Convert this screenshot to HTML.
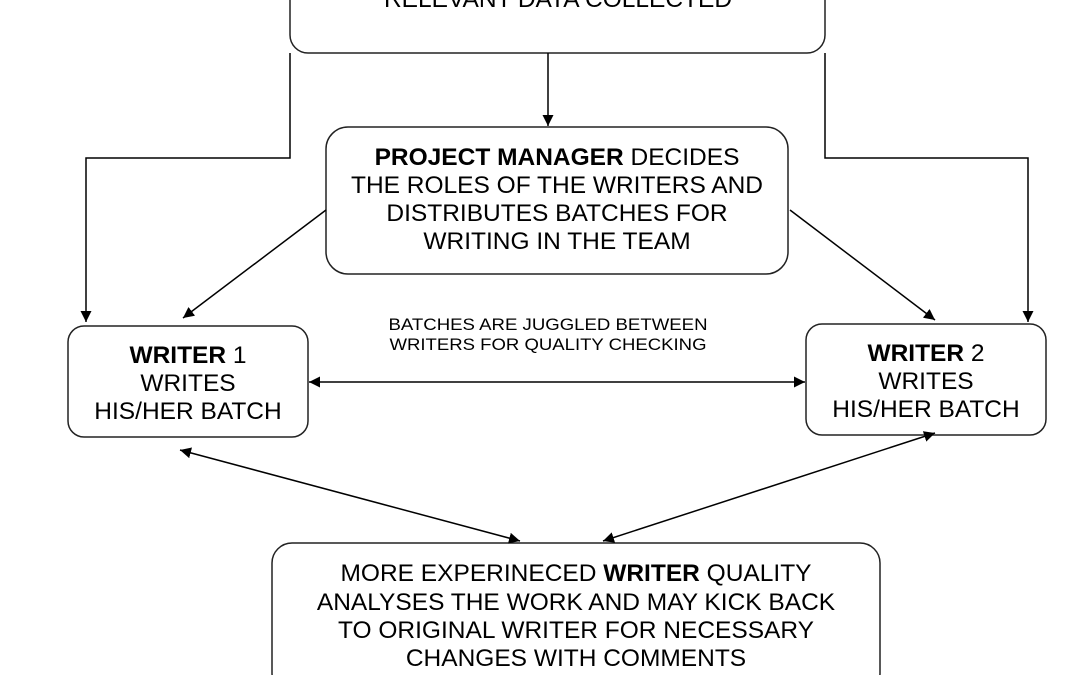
<!DOCTYPE html>
<html><head><meta charset="utf-8"><style>
html,body{margin:0;padding:0;background:#fff;width:1080px;height:675px;overflow:hidden}
svg text{font-family:"Liberation Sans",Arial,sans-serif;fill:#000}
</style></head><body>
<svg width="1080" height="675" viewBox="0 0 1080 675" xmlns="http://www.w3.org/2000/svg">
<defs>
<marker id="a" viewBox="0 0 10 10" refX="10" refY="5" markerWidth="11" markerHeight="11" markerUnits="userSpaceOnUse" orient="auto-start-reverse">
<path d="M0,0 L10,5 L0,10 z" fill="#000"/></marker>
</defs>
<g fill="none" stroke="#222" stroke-width="1.5">
<rect x="290" y="-40" width="535" height="93" rx="18"/>
<rect x="326" y="127" width="462" height="147" rx="22"/>
<rect x="68" y="326" width="240" height="111" rx="16"/>
<rect x="806" y="324" width="240" height="111" rx="16"/>
<rect x="272" y="543" width="608" height="150" rx="20"/>
</g>
<g fill="none" stroke="#000" stroke-width="1.5">
<path d="M548 53 V126" marker-end="url(#a)"/>
<path d="M290 53 V158 H86 V322" marker-end="url(#a)"/>
<path d="M825 53 V158 H1028 V322" marker-end="url(#a)"/>
<path d="M326 210 L183 318" marker-end="url(#a)"/>
<path d="M790 210 L935 320" marker-end="url(#a)"/>
<path d="M309 382 H805" marker-start="url(#a)" marker-end="url(#a)"/>
<path d="M180 450 L520 541" marker-start="url(#a)" marker-end="url(#a)"/>
<path d="M935 433 L603 541" marker-start="url(#a)" marker-end="url(#a)"/>
</g>
<g font-size="24.5" text-anchor="middle">
<text x="558" y="7">RELEVANT DATA COLLECTED</text>
<text x="557" y="165"><tspan font-weight="bold">PROJECT MANAGER</tspan> DECIDES</text>
<text x="557" y="193">THE ROLES OF THE WRITERS AND</text>
<text x="557" y="221">DISTRIBUTES BATCHES FOR</text>
<text x="557" y="249">WRITING IN THE TEAM</text>
<text x="188" y="363"><tspan font-weight="bold">WRITER</tspan> 1</text>
<text x="188" y="391">WRITES</text>
<text x="188" y="419">HIS/HER BATCH</text>
<text x="926" y="361"><tspan font-weight="bold">WRITER</tspan> 2</text>
<text x="926" y="389">WRITES</text>
<text x="926" y="417">HIS/HER BATCH</text>
<text x="576" y="581">MORE EXPERINECED <tspan font-weight="bold">WRITER</tspan> QUALITY</text>
<text x="576" y="610">ANALYSES THE WORK AND MAY KICK BACK</text>
<text x="576" y="638">TO ORIGINAL WRITER FOR NECESSARY</text>
<text x="576" y="666">CHANGES WITH COMMENTS</text>
</g>
<g font-size="17" text-anchor="middle">
<text x="548" y="330" textLength="319" lengthAdjust="spacingAndGlyphs">BATCHES ARE JUGGLED BETWEEN</text>
<text x="548" y="350" textLength="317" lengthAdjust="spacingAndGlyphs">WRITERS FOR QUALITY CHECKING</text>
</g>
</svg>
</body></html>
